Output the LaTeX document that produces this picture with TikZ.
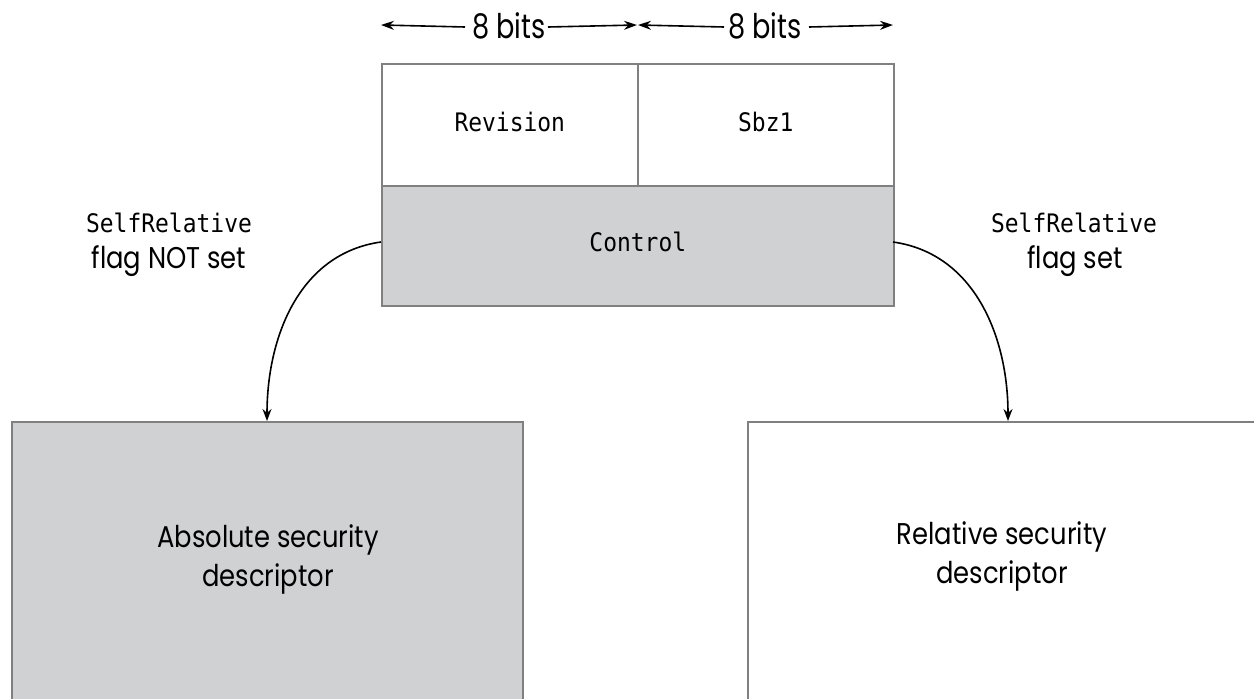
\documentclass[tikz,border=0pt]{standalone}
\usepackage{fontspec}
\setmainfont{Poppins}
\setmonofont{DejaVu Sans Mono}[FakeStretch=0.9]
\newfontfamily\labfont{Poppins}[FakeStretch=0.86]
\newfontfamily\bitfont{Poppins}[FakeStretch=0.8]
\usetikzlibrary{arrows.meta}
\definecolor{boxgray}{RGB}{208,209,211}
\definecolor{edgegray}{RGB}{128,128,128}
\begin{document}
\begin{tikzpicture}[x=1pt,y=-1pt,
  cell/.style={draw=edgegray,line width=1.6pt,inner sep=0pt,anchor=north west},
  monotxt/.style={font=\fontsize{25.5}{28}\selectfont\ttfamily},
  labtxt/.style={font=\fontsize{30}{39}\selectfont\labfont,align=center},
  bitstxt/.style={font=\fontsize{34}{36}\selectfont\bitfont,inner sep=0pt},
  conn/.style={line width=1.6pt,-{Stealth[length=12pt,width=9pt]}},
  dim/.style={line width=1.6pt,-{Stealth[length=13pt,width=9pt]}}]
\useasboundingbox (0,0) rectangle (1254,699);
% top structure
\node[cell,minimum width=256pt,minimum height=122pt] (rev) at (381,63) {};
\node[cell,minimum width=256pt,minimum height=122pt] (sbz) at (637,63) {};
\node[cell,fill=boxgray,minimum width=512pt,minimum height=120pt] (ctl) at (381,185) {};
\node[monotxt] (revt) at ([yshift=3pt]rev.center) {Revision};
\node[monotxt] (sbzt) at ([yshift=3pt]sbz.center) {Sbz1};
\node[monotxt] (ctlt) at ([yshift=4pt]ctl.center) {Control};
% bottom boxes
\node[cell,fill=boxgray,minimum width=511pt,minimum height=300pt] (abs) at (11,421) {};
\node[cell,minimum width=520pt,minimum height=300pt] (rel) at (747,421) {};
\node[labtxt] (abst) at (268,559) {Absolute security\\descriptor};
\node[labtxt] (relt) at (1002,556) {Relative security\\descriptor};
% bit width markers
\coordinate (a0) at (381,25);
\coordinate (a1) at (637,25);
\coordinate (a2) at (893,25);
\node[bitstxt] (b1) at (509,26) {8 bits};
\node[bitstxt] (b2) at (765,26) {8 bits};
\draw[dim] ([xshift=-7pt,yshift=-1pt]b1.west) -- (a0);
\draw[dim] ([xshift=2pt,yshift=-1pt]b1.east) -- (a1);
\draw[dim] ([xshift=-4pt,yshift=-1pt]b2.west) -- ([xshift=1pt]a1);
\draw[dim] ([xshift=7pt,yshift=-1pt]b2.east) -- (a2);
% flag labels
\node[monotxt] (sl) at (169,223) {SelfRelative};
\node[labtxt,font=\fontsize{30}{32}\selectfont\labfont] (fl) at (169,261) {flag NOT set};
\node[monotxt] (sr) at (1074,223) {SelfRelative};
\node[labtxt,font=\fontsize{30}{32}\selectfont\labfont] (fr) at (1075,261) {flag set};
% connectors
\coordinate (cl) at (381,242);
\coordinate (cr) at (893,242);
\coordinate (tl) at (267,421);
\coordinate (tr) at (1008,421);
\draw[conn] (cl) to[out=188,in=90] (tl);
\draw[conn] (cr) to[out=-8,in=90] (tr);
\end{tikzpicture}
\end{document}
